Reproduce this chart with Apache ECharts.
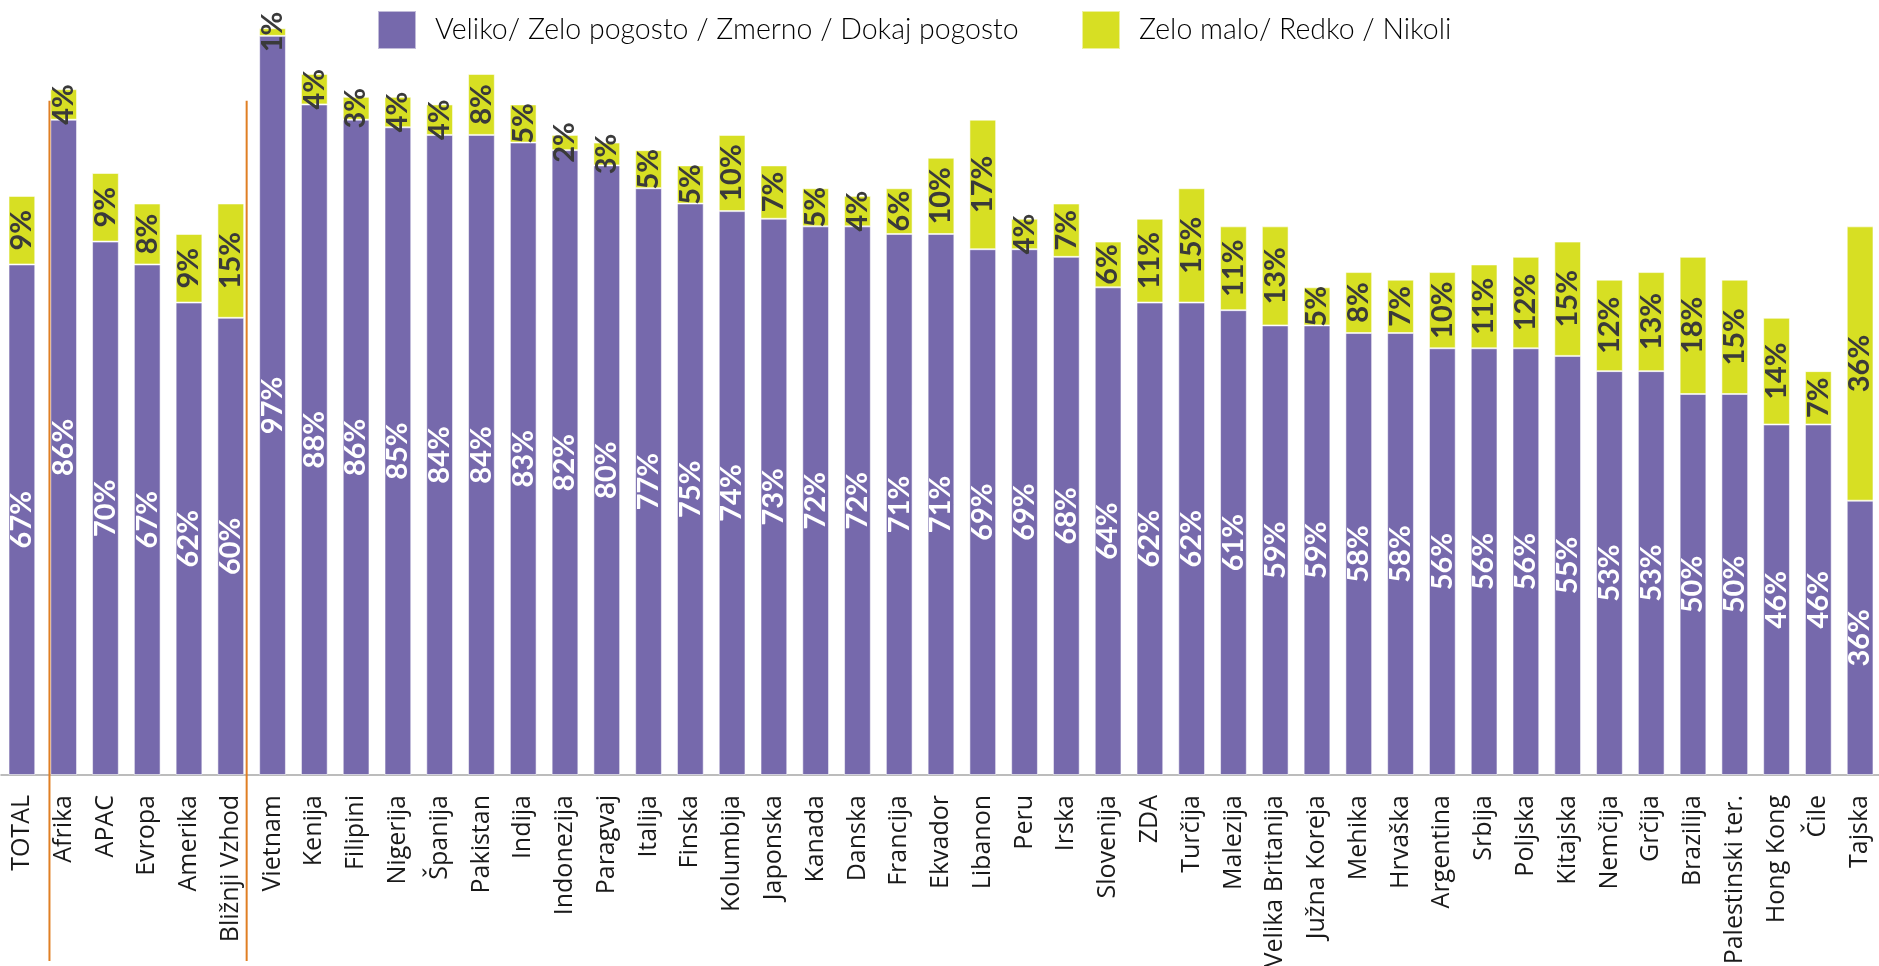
<!DOCTYPE html>
<html>
<head>
<meta charset="utf-8">
<title>chart</title>
<script src="https://cdn.jsdelivr.net/npm/echarts@6/dist/echarts.min.js"></script>
<style>
    html, body {margin: 0; padding: 0; background: #fff;}
    #chart-bar {width: 1879px; height: 966px;}
</style>
</head>
<body>
<div id="chart-bar"></div>
<script>
//类别
var categories = ['TOTAL', 'Afrika', 'APAC', 'Evropa', 'Amerika', 'Bližnji Vzhod',
    'Vietnam', 'Kenija', 'Filipini', 'Nigerija', 'Španija', 'Pakistan', 'Indija', 'Indonezija',
    'Paragvaj', 'Italija', 'Finska', 'Kolumbija', 'Japonska', 'Kanada', 'Danska', 'Francija',
    'Ekvador', 'Libanon', 'Peru', 'Irska', 'Slovenija', 'ZDA', 'Turčija', 'Malezija',
    'Velika Britanija', 'Južna Koreja', 'Mehika', 'Hrvaška', 'Argentina', 'Srbija', 'Poljska',
    'Kitajska', 'Nemčija', 'Grčija', 'Brazilija', 'Palestinski ter.', 'Hong Kong', 'Čile', 'Tajska'];

//Veliko / Zelo pogosto / Zmerno / Dokaj pogosto
var highValues = [67, 86, 70, 67, 62, 60,
    97, 88, 86, 85, 84, 84, 83, 82, 80, 77, 75, 74, 73, 72, 72, 71, 71, 69, 69, 68,
    64, 62, 62, 61, 59, 59, 58, 58, 56, 56, 56, 55, 53, 53, 50, 50, 46, 46, 36];

//Zelo malo / Redko / Nikoli
var lowValues = [9, 4, 9, 8, 9, 15,
    1, 4, 3, 4, 4, 8, 5, 2, 3, 5, 5, 10, 7, 5, 4, 6, 10, 17, 4, 7,
    6, 11, 15, 11, 13, 5, 8, 7, 10, 11, 12, 15, 12, 13, 18, 15, 14, 7, 36];

var legendNames = ['Veliko/ Zelo pogosto / Zmerno / Dokaj pogosto', 'Zelo malo/ Redko / Nikoli'];

//区域组的首尾（画橙色分隔线）
var groupFirst = 'Afrika';
var groupLast = 'Bližnji Vzhod';

var PURPLE = '#7669AC';
var YELLOW = '#D7DF23';

var chartMain = document.getElementById('chart-bar');
var mychart = echarts.init(chartMain);

function legendItem(name, left) {
    return {
        data: [name],
        left: left,
        top: 5,
        icon: 'rect',
        itemWidth: 38,
        itemHeight: 38,
        selectedMode: false,
        textStyle: {
            fontFamily: 'Lato, sans-serif',
            fontWeight: 300,
            fontSize: 28.5,
            color: '#000',
            padding: [0, 0, 0, 14]
        }
    };
}

function valueLabel(color) {
    return {
        show: true,
        position: 'inside',
        rotate: 90,
        formatter: '{c}%',
        color: color,
        fontFamily: 'Lato, sans-serif',
        fontWeight: 'bold',
        fontSize: 29
    };
}

var option_bar = {
    animation: false,
    legend: [
        legendItem(legendNames[0], 372),
        legendItem(legendNames[1], 1076)
    ],
    grid: {
        left: 1,
        right: -2,
        top: 13,
        bottom: 191,
        containLabel: false,
        outerBoundsMode: 'none'
    },
    xAxis: {
        type: 'category',
        data: categories,
        axisLine: {
            lineStyle: {color: '#A6A6A6', width: 1.5}
        },
        axisTick: {
            length: 9,
            lineStyle: {color: '#A6A6A6', width: 1.5}
        },
        axisLabel: {
            interval: 0,
            rotate: 90,
            margin: 20,
            fontFamily: '"Open Sans", sans-serif',
            fontSize: 25,
            color: '#1a1a1a'
        }
    },
    yAxis: {
        type: 'value',
        min: 0,
        max: 100,
        show: false
    },
    series: [
        {
            name: legendNames[0],
            type: 'bar',
            stack: 'all',
            barWidth: '64%',
            data: highValues,
            itemStyle: {
                color: PURPLE,
                borderColor: 'rgba(255,255,255,0.55)',
                borderWidth: 1
            },
            label: valueLabel('#ffffff')
        },
        {
            name: legendNames[1],
            type: 'bar',
            stack: 'all',
            barWidth: '64%',
            data: lowValues,
            itemStyle: {
                color: YELLOW,
                borderColor: 'rgba(255,255,255,0.55)',
                borderWidth: 1
            },
            label: valueLabel('#3a3a3a')
        }
    ]
};

mychart.setOption(option_bar);

//橙色分隔线，位置由坐标轴换算
var band = mychart.convertToPixel({xAxisIndex: 0}, categories[1]) - mychart.convertToPixel({xAxisIndex: 0}, categories[0]);
var xLeft = mychart.convertToPixel({xAxisIndex: 0}, groupFirst) - band * 0.34;
var xRight = mychart.convertToPixel({xAxisIndex: 0}, groupLast) + band * 0.38;
var yTop = mychart.convertToPixel({yAxisIndex: 0}, 88.5);
var yBottom = chartMain.clientHeight - 5;

mychart.setOption({
    graphic: [xLeft, xRight].map(function (x) {
        return {
            type: 'line',
            z: 100,
            shape: {x1: x, y1: yTop, x2: x, y2: yBottom},
            style: {stroke: '#E07F24', lineWidth: 2}
        };
    })
});
</script>
</body>
</html>
